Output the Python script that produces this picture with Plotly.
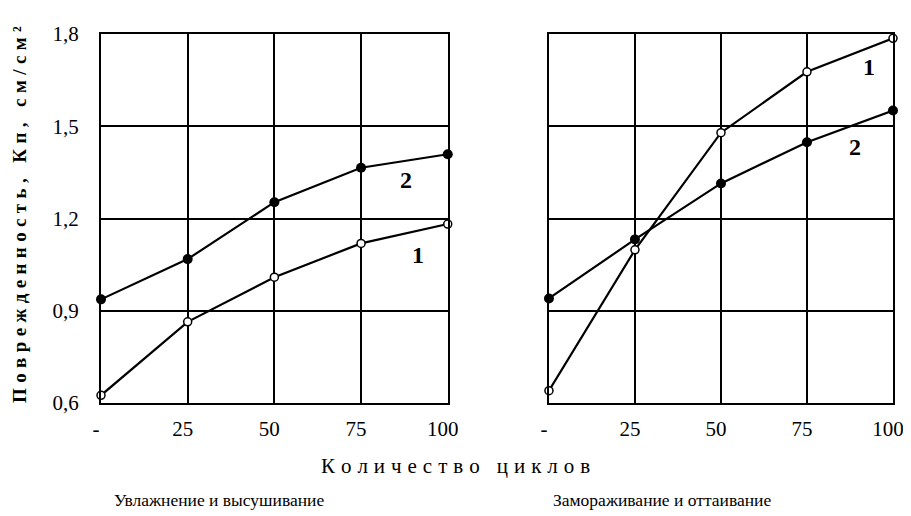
import plotly.graph_objects as go

cycles = [0, 25, 50, 75, 100]
tick_labels = ["-", "25", "50", "75", "100"]
y_ticks = [0.6, 0.9, 1.2, 1.5, 1.8]
y_tick_labels = ["0,6", "0,9", "1,2", "1,5", "1,8"]

wet_dry_1 = [0.625, 0.864, 1.009, 1.119, 1.182]
wet_dry_2 = [0.937, 1.068, 1.253, 1.365, 1.409]
freeze_thaw_1 = [0.64, 1.098, 1.479, 1.677, 1.786]
freeze_thaw_2 = [0.94, 1.132, 1.314, 1.448, 1.551]

panel_titles = ["Увлажнение и высушивание", "Замораживание и оттаивание"]
x_title = "Количество циклов"
y_title = "Поврежденность, Кп, см/см²"

def spaced(s, sp="\u2009"):
    return sp.join(list(s))

FONT = "Liberation Serif"

fig = go.Figure()

def add_series(xa, ya, y1, y2):
    fig.add_trace(go.Scatter(x=cycles, y=y2, mode="lines+markers", xaxis=xa, yaxis=ya,
                             line=dict(color="black", width=2.2),
                             marker=dict(symbol="circle", size=10, color="black"),
                             showlegend=False, cliponaxis=False))
    fig.add_trace(go.Scatter(x=cycles, y=y1, mode="lines+markers", xaxis=xa, yaxis=ya,
                             line=dict(color="black", width=2.2),
                             marker=dict(symbol="circle", size=8, color="white",
                                         line=dict(color="black", width=1.5)),
                             showlegend=False, cliponaxis=False))

add_series("x", "y", wet_dry_1, wet_dry_2)
add_series("x2", "y2", freeze_thaw_1, freeze_thaw_2)

axis_common = dict(showgrid=True, gridcolor="black", gridwidth=1.5,
                   showline=True, linecolor="black", linewidth=2, mirror=True,
                   zeroline=False, ticks="", automargin=False,
                   tickfont=dict(family=FONT, size=21, color="black"))

xcommon = dict(range=[0, 100], tickvals=cycles, ticktext=tick_labels,
               ticklabelstandoff=6, ticklabelshift=-5, **axis_common)
ycommon = dict(range=[0.6, 1.8], tickvals=y_ticks, ticktext=y_tick_labels,
               ticklabelstandoff=16, **axis_common)

# page body has an 8px margin, so the figure is sized to fit the 911x516 window
fig.update_layout(
    width=903, height=508,
    margin=dict(l=93, r=18, t=26, b=113, autoexpand=False),
    plot_bgcolor="white", paper_bgcolor="white",
    font=dict(family=FONT, color="black"),
    xaxis=dict(domain=[0, 0.4378], anchor="y", **xcommon),
    xaxis2=dict(domain=[0.5656, 1], anchor="y2", **xcommon),
    yaxis=dict(domain=[0, 1], anchor="x", **ycommon),
    yaxis2=dict(domain=[0, 1], anchor="x2", showticklabels=False, **ycommon),
)

# curve labels
lab = dict(showarrow=False, font=dict(family=FONT, size=24, color="black"))
fig.add_annotation(x=88, y=1.325, text="<b>2</b>", xref="x", yref="y", **lab)
fig.add_annotation(x=91.5, y=1.08, text="<b>1</b>", xref="x", yref="y", **lab)
fig.add_annotation(x=93, y=1.693, text="<b>1</b>", xref="x2", yref="y2", **lab)
fig.add_annotation(x=89, y=1.433, text="<b>2</b>", xref="x2", yref="y2", **lab)

fig.add_annotation(x=0.448, y=-0.171, xref="paper", yref="paper",
                   xanchor="center", yanchor="middle",
                   text=spaced(x_title, "\u2009\u200a"), showarrow=False,
                   font=dict(family=FONT, size=21, color="black"))
fig.add_annotation(x=0.149, y=-0.263, xref="paper", yref="paper",
                   xanchor="center", yanchor="middle",
                   text=panel_titles[0], showarrow=False,
                   font=dict(family=FONT, size=17.5, color="black"))
fig.add_annotation(x=0.708, y=-0.263, xref="paper", yref="paper",
                   xanchor="center", yanchor="middle",
                   text=panel_titles[1], showarrow=False,
                   font=dict(family=FONT, size=17.5, color="black"))
fig.add_annotation(x=-0.102, y=0.51, xref="paper", yref="paper",
                   xanchor="center", yanchor="middle",
                   text="<b>" + spaced(y_title, "\u2009\u200a") + "</b>", showarrow=False,
                   textangle=-90,
                   font=dict(family=FONT, size=19, color="black"))

fig.write_html("out.html")
